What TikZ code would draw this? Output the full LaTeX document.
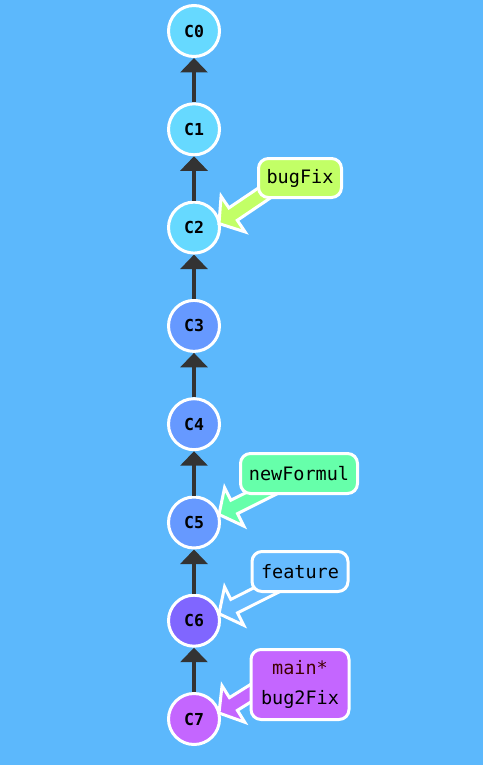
\documentclass[tikz,border=0pt]{standalone}
\usepackage{fontspec}
\newfontfamily\gitmono{DejaVu Sans Mono}
\usetikzlibrary{calc,arrows.meta}
\definecolor{bgblue}{RGB}{92,184,252}
\definecolor{cyanc}{RGB}{102,217,255}
\definecolor{bluec}{RGB}{102,153,255}
\definecolor{violetc}{RGB}{128,102,255}
\definecolor{purplec}{RGB}{196,102,255}
\definecolor{limec}{RGB}{194,255,102}
\definecolor{mintc}{RGB}{102,255,170}
\definecolor{skyc}{RGB}{102,187,255}
\definecolor{edgec}{RGB}{51,51,51}
\definecolor{headtxt}{RGB}{64,0,0}
\newcommand\branchptr[3]{%
  \coordinate (hb) at ($(#1)!17pt!(#2)$);
  \filldraw[ptr,fill=#3] (#1) -- ($(hb)!21.5pt!90:(#2)$) -- ($(hb)!7.5pt!90:(#2)$)
    -- ($(#2)!7.5pt!-90:(hb)$) -- ($(#2)!7.5pt!90:(hb)$) -- ($(hb)!7.5pt!-90:(#2)$)
    -- ($(hb)!21.5pt!-90:(#2)$) -- cycle;}
\begin{document}
\begin{tikzpicture}[x=1pt,y=-1pt,
  commit/.style={circle,draw=white,line width=3pt,minimum size=51pt,inner sep=0pt,
    font=\gitmono\bfseries\fontsize{16.5}{18}\selectfont},
  parent/.style={draw=edgec,line width=3.3pt,-{Triangle[width=27pt,length=14.5pt]}},
  branch/.style={draw=white,line width=3pt,rounded corners=10pt,inner sep=0pt,
    font=\gitmono\fontsize{18.5}{29.5}\selectfont,align=center},
  ptr/.style={draw=white,line width=3pt,line join=miter}]
\useasboundingbox (0,0) rectangle (483,765);
\fill[bgblue] (0,0) rectangle (483,765);
% commits
\node[commit,fill=cyanc]   (c0) at (194,31)    {C0};
\node[commit,fill=cyanc]   (c1) at (194,129.3) {C1};
\node[commit,fill=cyanc]   (c2) at (194,227.6) {C2};
\node[commit,fill=bluec]   (c3) at (194,325.9) {C3};
\node[commit,fill=bluec]   (c4) at (194,424.2) {C4};
\node[commit,fill=bluec]   (c5) at (194,522.5) {C5};
\node[commit,fill=violetc] (c6) at (194,620.7) {C6};
\node[commit,fill=purplec] (c7) at (194,719)   {C7};
% parent links
\draw[parent] (c1.north) -- (c0.south);
\draw[parent] (c2.north) -- (c1.south);
\draw[parent] (c3.north) -- (c2.south);
\draw[parent] (c4.north) -- (c3.south);
\draw[parent] (c5.north) -- (c4.south);
\draw[parent] (c6.north) -- (c5.south);
\draw[parent] (c7.north) -- (c6.south);
% pointer tips and tails
\coordinate (tB) at ($(c2.center)+(25,-4)$);
\coordinate (sB) at ($(tB)+(-34:70)$);
\coordinate (tN) at ($(c5.center)+(25,-8)$);
\coordinate (sN) at ($(tN)+(-26.6:70)$);
\coordinate (tF) at ($(c6.center)+(25,-7)$);
\coordinate (sF) at ($(tF)+(-26.6:70)$);
\coordinate (tM) at ($(c7.center)+(25,-6)$);
\coordinate (sM) at ($(tM)+(-32:70)$);
\branchptr{tB}{sB}{limec}
\branchptr{tN}{sN}{mintc}
\branchptr{tF}{sF}{skyc}
\branchptr{tM}{sM}{purplec}
% branch labels
\node[branch,fill=limec,minimum width=83pt,minimum height=39pt] (bugFix) at (300,178) {bugFix};
\node[branch,fill=mintc,minimum width=117pt,minimum height=40pt] (newFormul) at (299,473.5) {newFormul};
\node[branch,fill=skyc,minimum width=96pt,minimum height=40pt] (feature) at (300,571.5) {feature};
\node[branch,fill=purplec,minimum width=98pt,minimum height=70pt] (main) at (300,684.5) {\textcolor{headtxt}{main*}\\bug2Fix};
\end{tikzpicture}
\end{document}
